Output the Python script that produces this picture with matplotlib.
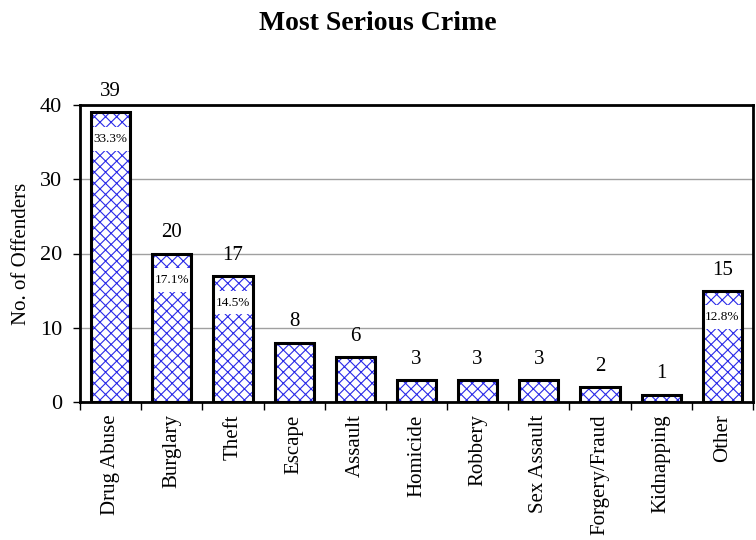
import matplotlib.pyplot as plt
import numpy as np

plt.rcParams["font.family"] = ["Liberation Serif", "DejaVu Serif"]
plt.rcParams["hatch.linewidth"] = 0.8

categories = ["Drug Abuse", "Burglary", "Theft", "Escape", "Assault", "Homicide",
              "Robbery", "Sex Assault", "Forgery/Fraud", "Kidnapping", "Other"]
counts = [39, 20, 17, 8, 6, 3, 3, 3, 2, 1, 15]
pct_labels = {0: "33.3%", 1: "17.1%", 2: "14.5%", 10: "12.8%"}

fig = plt.figure(figsize=(7.56, 5.4), dpi=100)
ax = fig.add_axes([80 / 756, 138 / 540, 673 / 756, 297 / 540])

x = np.arange(len(categories))
bar_w = 0.64
# blue hatch fill, then black outline on top
ax.bar(x, counts, width=bar_w, color="white", edgecolor="#2a2ae8", linewidth=0,
       hatch="xxx", zorder=3)
ax.bar(x, counts, width=bar_w, fill=False, edgecolor="black", linewidth=2.2,
       zorder=5)

for i, v in enumerate(counts):
    ax.annotate(str(v), (i, v), xytext=(0, 8), textcoords="offset points",
                ha="center", va="bottom", fontsize=15)

# white band behind each percentage label
for i, lab in pct_labels.items():
    yc = counts[i] - 3.6
    ax.bar(i, 3.2, bottom=yc - 1.6, width=bar_w, color="white", linewidth=0,
           zorder=4)
    ax.text(i, yc, lab, ha="center", va="center", fontsize=9.5, zorder=6)

ax.set_xlim(-0.5, len(categories) - 0.5)
ax.set_ylim(0, 40)
ax.set_yticks([0, 10, 20, 30, 40])
ax.yaxis.grid(True, color="#a0a0a0", linewidth=1)
ax.set_axisbelow(True)

ax.set_xticks(x)
ax.set_xticklabels(categories, rotation=90, fontsize=15)
ax.set_xticks(np.arange(-0.5, len(categories), 1), minor=True)
ax.tick_params(axis="x", which="major", length=0, pad=9)
ax.tick_params(axis="x", which="minor", length=6, width=1)
ax.tick_params(axis="y", length=5, width=1, labelsize=16, pad=8)

for s in ax.spines.values():
    s.set_linewidth(2)

ax.set_ylabel("No. of Offenders", fontsize=15, labelpad=6)
fig.suptitle("Most Serious Crime", fontsize=20, fontweight="bold", y=0.98)

fig.savefig("out.png", dpi=100)
